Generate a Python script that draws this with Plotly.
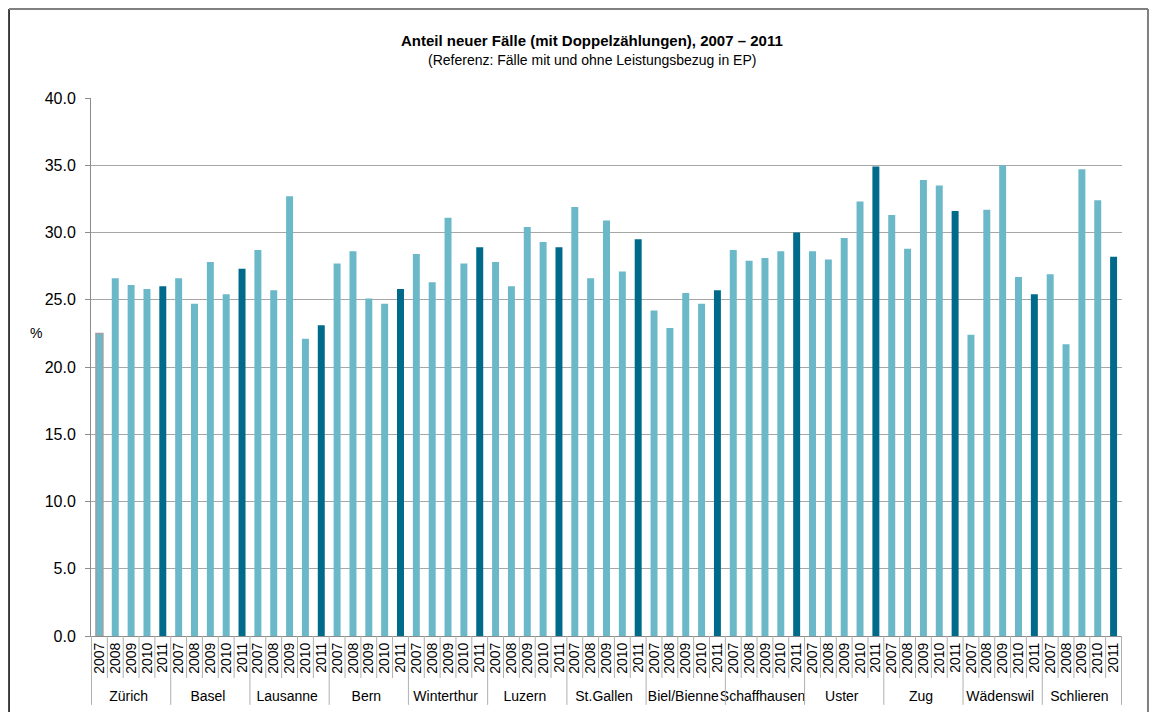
import plotly.graph_objects as go

cities = ["Zürich", "Basel", "Lausanne", "Bern", "Winterthur", "Luzern", "St.Gallen",
          "Biel/Bienne", "Schaffhausen", "Uster", "Zug", "Wädenswil", "Schlieren"]
years = ["2007", "2008", "2009", "2010", "2011"]

values = {
    "Zürich":       [22.5, 26.6, 26.1, 25.8, 26.0],
    "Basel":        [26.6, 24.7, 27.8, 25.4, 27.3],
    "Lausanne":     [28.7, 25.7, 32.7, 22.1, 23.1],
    "Bern":         [27.7, 28.6, 25.1, 24.7, 25.8],
    "Winterthur":   [28.4, 26.3, 31.1, 27.7, 28.9],
    "Luzern":       [27.8, 26.0, 30.4, 29.3, 28.9],
    "St.Gallen":    [31.9, 26.6, 30.9, 27.1, 29.5],
    "Biel/Bienne":  [24.2, 22.9, 25.5, 24.7, 25.7],
    "Schaffhausen": [28.7, 27.9, 28.1, 28.6, 30.0],
    "Uster":        [28.6, 28.0, 29.6, 32.3, 34.9],
    "Zug":          [31.3, 28.8, 33.9, 33.5, 31.6],
    "Wädenswil":    [22.4, 31.7, 35.0, 26.7, 25.4],
    "Schlieren":    [26.9, 21.7, 34.7, 32.4, 28.2],
}

LIGHT = "#6bb9c8"
DARK = "#006a8a"
FONT = "Liberation Sans, Arial, sans-serif"

x_outer, x_inner, y, colors, lw = [], [], [], [], []
for c in cities:
    for yr, v in zip(years, values[c]):
        x_outer.append(c)
        x_inner.append(yr)
        y.append(v)
        colors.append(DARK if yr == "2011" else LIGHT)
        lw.append(0)
lw[0] = 1.5

fig = go.Figure(go.Bar(
    x=[x_outer, x_inner], y=y,
    marker=dict(color=colors, line=dict(color="#a0a0a0", width=lw)),
    hoverinfo="y",
))

# page body has an 8px margin; figure sized so the plot area lands at x 91-1122, y 98-636
fig.update_layout(
    width=1141, height=704,
    margin=dict(l=83, r=27, t=90, b=76),
    paper_bgcolor="white", plot_bgcolor="white",
    bargap=0.56,
    showlegend=False,
    font=dict(family=FONT, color="#000000", size=13),
)

fig.update_yaxes(
    range=[0, 40], dtick=5, tickformat=".1f",
    showgrid=True, gridcolor="#a6a6a6", gridwidth=1,
    showline=True, linecolor="#8c8c8c", linewidth=1,
    ticks="outside", ticklen=5, tickcolor="#8c8c8c",
    ticklabelstandoff=6,
    tickfont=dict(size=16, family=FONT),
    zeroline=False, automargin=False,
)
fig.update_xaxes(
    type="multicategory",
    tickmode="linear", tick0=0, dtick=1,
    tickangle=-90,
    tickson="boundaries", ticks="outside", ticklen=9, tickcolor="rgba(0,0,0,0)",
    showdividers=False,
    showline=True, linecolor="#8c8c8c", linewidth=1,
    tickfont=dict(size=14, family=FONT),
    automargin=False,
)

# separators below the axis: short ones between years, long ones between cities
n = len(y)
for i in range(n + 1):
    long_line = (i % len(years) == 0)
    fig.add_shape(type="line", xref="x", yref="paper",
                  x0=i - 0.5, x1=i - 0.5, y0=0, y1=-0.128 if long_line else -0.078,
                  line=dict(color="#b0b0b0", width=1))

fig.add_annotation(text="<b>Anteil neuer Fälle (mit Doppelzählungen), 2007 – 2011</b>",
                   xref="paper", yref="paper", x=0.486, y=1.106, showarrow=False,
                   font=dict(size=15, family=FONT), yanchor="middle")
fig.add_annotation(text="(Referenz: Fälle mit und ohne Leistungsbezug in EP)",
                   xref="paper", yref="paper", x=0.486, y=1.0715, showarrow=False,
                   font=dict(size=14, family=FONT), yanchor="middle")
fig.add_annotation(text="%", xref="paper", yref="paper", x=-0.061, y=0.563,
                   showarrow=False, font=dict(size=14, family=FONT))

# outer frame
fig.add_shape(type="line", xref="paper", yref="paper",
              x0=-0.0795, x1=-0.0795, y0=-0.2, y1=1.1654,
              line=dict(color="#000000", width=1.5))
fig.add_shape(type="line", xref="paper", yref="paper",
              x0=-0.0795, x1=1.0252, y0=1.1654, y1=1.1654,
              line=dict(color="#808080", width=2))
fig.add_shape(type="line", xref="paper", yref="paper",
              x0=1.0252, x1=1.0252, y0=-0.2, y1=1.1654,
              line=dict(color="#808080", width=2))

fig.write_html("out.html")
